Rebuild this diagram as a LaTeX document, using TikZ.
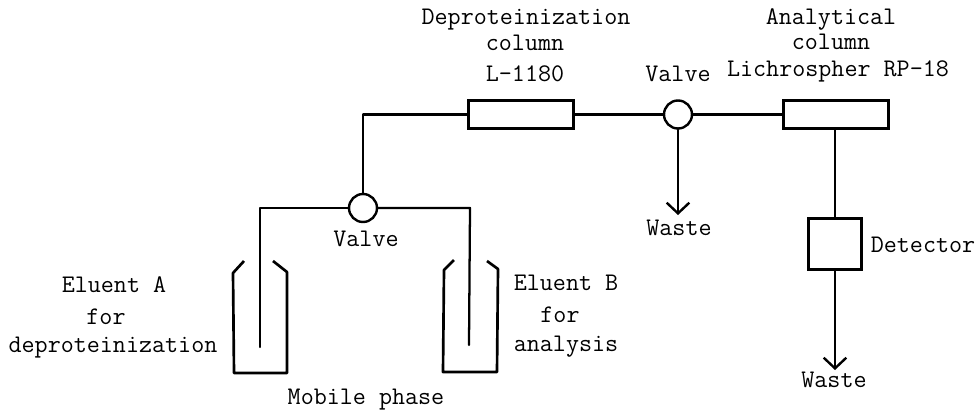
\documentclass[tikz,border=0pt]{standalone}
\usepackage{tikz}
\usetikzlibrary{positioning, arrows.meta, calc}

\begin{document}
\begin{tikzpicture}[
    x=0.75pt, y=-0.75pt,
    font=\ttfamily\fontsize{19}{22}\selectfont,
    >={Straight Barb[length=8pt,width=17pt,line width=1.8pt]},
    % --- Styles ---
    pipe/.style={line width=1.7pt, line cap=round, line join=round},
    flow/.style={pipe, ->},
    column_box/.style={draw, line width=2pt, fill=white, inner sep=0pt, minimum width=79pt, minimum height=21pt},
    detector_box/.style={draw, line width=2.3pt, fill=white, inner sep=0pt, minimum width=40pt, minimum height=38pt},
    valve/.style={circle, draw, line width=1.8pt, fill=white, inner sep=0pt, minimum size=21pt},
    bottle/.style={line width=2pt, line join=round},
    label_text/.style={inner sep=0pt, align=center},
]
    \useasboundingbox (0,0) rectangle (979,411);

    % ==========================
    % 1. VALVES AND COLUMNS
    % ==========================
    \node[valve] (valve_a) at (363,208) {};
    \node[valve] (valve_b) at (678,114.5) {};
    \node[column_box] (deprot) at (521,114.5) {};
    \node[column_box] (analyt) at (836,114.5) {};
    \node[detector_box] (detect) at (835,244) {};

    % ==========================
    % 2. FREE ENDS OF THE LINES
    % ==========================
    \coordinate (corner_a) at (363,114.5);
    \coordinate (left_top) at (260,208);
    \coordinate (left_end) at (260,347);
    \coordinate (right_top) at (470,208);
    \coordinate (right_end) at (469,345);
    \coordinate (waste_b) at (678,215);
    \coordinate (waste_d) at (835,370);

    % Bottles
    \draw[bottle] (244,261) -- (233,273) -- (234,373) -- (287,373) -- (287,272) -- (273,261);
    \draw[bottle] (454,260) -- (444,270) -- (443,372) -- (497,372) -- (498,269) -- (487,261);

    % Pipes
    \draw[pipe] (valve_a.north) -- (corner_a) -- (deprot.west);
    \draw[pipe] (deprot.east) -- (valve_b.west);
    \draw[pipe] (valve_b.east) -- (analyt.west);
    \draw[pipe] (analyt.south -| detect.north) -- (detect.north);
    \draw[pipe] (valve_a.west) -- (left_top) -- (left_end);
    \draw[pipe] (valve_a.east) -- (right_top) -- (right_end);
    \draw[flow] (valve_b.south) -- (waste_b);
    \draw[flow] (detect.south) -- (waste_d);

    % ==========================
    % 3. LABELS
    % ==========================
    \node[label_text] (lab_deprot) at (526,20) {Deproteinization};
    \node[label_text] (lab_deprot2) at (525,43) {column};
    \node[label_text] (lab_l) at (525,74) {L-1180};
    \node[label_text] (lab_valve_b) at (678,74) {Valve};
    \node[label_text] (lab_analyt) at (831,19) {Analytical};
    \node[label_text] (lab_analyt2) at (831,42) {column};
    \node[label_text] (lab_lich) at (838,71) {Lichrospher RP-18};
    \node[label_text] (lab_valve_a) at (366,239) {Valve};
    \node[label_text] (lab_waste_b) at (679,228) {Waste};
    \node[label_text] (lab_detect) at (923,245) {Detector};
    \node[label_text] (lab_waste_d) at (834,380) {Waste};
    \node[label_text] (lab_a1) at (114,285) {Eluent A};
    \node[label_text] (lab_a2) at (106,317) {for};
    \node[label_text] (lab_a3) at (113,348) {deproteinization};
    \node[label_text] (lab_b1) at (566,283) {Eluent B};
    \node[label_text] (lab_b2) at (560,315) {for};
    \node[label_text] (lab_b3) at (566,347) {analysis};
    \node[label_text] (lab_mobile) at (366,400) {Mobile phase};
\end{tikzpicture}
\end{document}
